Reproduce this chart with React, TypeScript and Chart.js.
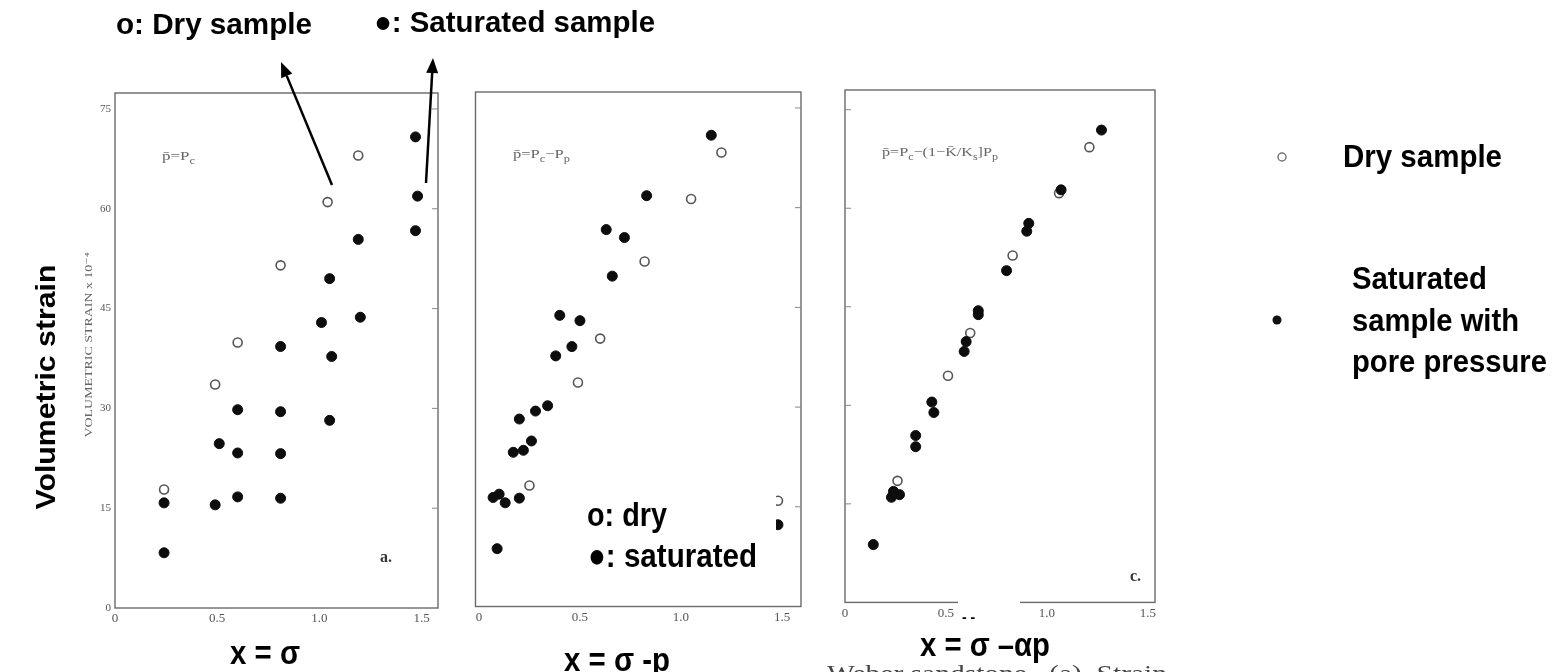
import React, { useEffect, useRef } from 'react';
import { Chart, registerables } from 'chart.js';
Chart.register(...registerables);

// ---------- axis ticks ----------
const X_TICKS = [0, 0.5, 1.0, 1.5];
const X_TICK_LABELS = ['0', '0.5', '1.0', '1.5'];
const Y_TICKS = [0, 15, 30, 45, 60, 75];
const Y_TICK_LABELS = ['0', '15', '30', '45', '60', '75'];

// ---------- panel a : x = sigma ----------
const aDryX = [1.19, 1.04, 0.81, 0.60, 0.49, 0.24];
const aDryY = [68.0, 61.0, 51.5, 39.9, 33.6, 17.8];
const aSatX = [1.47, 1.48, 1.47, 1.19, 1.20, 1.05, 1.01, 1.06, 1.05, 0.81, 0.81, 0.81, 0.81, 0.60, 0.60, 0.60, 0.51, 0.49, 0.24, 0.24];
const aSatY = [70.8, 61.9, 56.7, 55.4, 43.7, 49.5, 42.9, 37.8, 28.2, 39.3, 29.5, 23.2, 16.5, 29.8, 23.3, 16.7, 24.7, 15.5, 15.8, 8.3];

// ---------- panel b : x = sigma - p ----------
const bDryX = [1.20, 1.05, 0.82, 0.60, 0.49, 0.25, 1.48];
const bDryY = [68.3, 61.3, 51.9, 40.3, 33.7, 18.2, 15.9];
const bSatX = [1.15, 0.83, 0.63, 0.72, 0.66, 0.40, 0.50, 0.46, 0.38, 0.34, 0.28, 0.20, 0.26, 0.22, 0.17, 0.20, 0.13, 0.10, 0.07, 0.09, 1.48];
const bSatY = [70.9, 61.8, 56.7, 55.5, 49.7, 43.8, 43.0, 39.1, 37.7, 30.2, 29.4, 28.2, 24.9, 23.5, 23.2, 16.3, 15.6, 16.9, 16.4, 8.7, 12.3];

// ---------- panel c : x = sigma - alpha p ----------
const cDryX = [1.21, 1.06, 0.83, 0.62, 0.51, 0.26];
const cDryY = [69.3, 62.3, 52.8, 41.0, 34.5, 18.5];
const cSatX = [1.27, 1.07, 0.91, 0.90, 0.80, 0.66, 0.66, 0.60, 0.59, 0.43, 0.44, 0.35, 0.35, 0.24, 0.27, 0.23, 0.14];
const cSatY = [71.9, 62.8, 57.7, 56.5, 50.5, 44.4, 43.8, 39.7, 38.2, 30.5, 28.9, 25.4, 23.7, 16.9, 16.4, 16.0, 8.8];

// ---------- text ----------
const FORMULA_A: Array<[string, boolean]> = [['p̄=P', false], ['c', true]];
const FORMULA_B: Array<[string, boolean]> = [['p̄=P', false], ['c', true], ['−P', false], ['p', true]];
const FORMULA_C: Array<[string, boolean]> = [['p̄=P', false], ['c', true], ['−(1−K̄/K', false], ['s', true], [']P', false], ['p', true]];

const BOLD = "'Liberation Sans', Arial, Helvetica, sans-serif";
const SERIF = "'Liberation Serif', 'DejaVu Serif', serif";

type TextOpt = {
  size: number; weight?: string; family?: string; color?: string; width?: number;
  align?: CanvasTextAlign; rotate?: number; baseline?: CanvasTextBaseline;
};

function drawText(ctx: CanvasRenderingContext2D, text: string, x: number, y: number, o: TextOpt) {
  ctx.save();
  ctx.font = `${o.weight ?? 'bold'} ${o.size}px ${o.family ?? BOLD}`;
  ctx.fillStyle = o.color ?? '#000';
  ctx.textAlign = o.align ?? 'left';
  ctx.textBaseline = o.baseline ?? 'middle';
  const w = ctx.measureText(text).width;
  const sx = o.width ? o.width / w : 1;
  ctx.translate(x, y);
  if (o.rotate) ctx.rotate(o.rotate);
  ctx.scale(sx, 1);
  ctx.fillText(text, 0, 0);
  ctx.restore();
}

function drawFormula(ctx: CanvasRenderingContext2D, parts: Array<[string, boolean]>, x: number, y: number, size: number, color: string, width: number) {
  ctx.save();
  ctx.fillStyle = color;
  ctx.textBaseline = 'middle';
  ctx.textAlign = 'left';
  let total = 0;
  for (const [t, sub] of parts) {
    ctx.font = `${sub ? size * 0.75 : size}px ${SERIF}`;
    total += ctx.measureText(t).width;
  }
  ctx.translate(x, y);
  ctx.scale(width / total, 1);
  let cx = 0;
  for (const [t, sub] of parts) {
    ctx.font = `${sub ? size * 0.75 : size}px ${SERIF}`;
    ctx.fillText(t, cx, sub ? size * 0.35 : 0);
    cx += ctx.measureText(t).width;
  }
  ctx.restore();
}

function drawArrow(ctx: CanvasRenderingContext2D, x1: number, y1: number, x2: number, y2: number) {
  const ang = Math.atan2(y2 - y1, x2 - x1);
  const hl = 15, hw = 6;
  const bx = x2 - hl * Math.cos(ang), by = y2 - hl * Math.sin(ang);
  ctx.save();
  ctx.strokeStyle = '#000';
  ctx.fillStyle = '#000';
  ctx.lineWidth = 2.5;
  ctx.beginPath();
  ctx.moveTo(x1, y1);
  ctx.lineTo(bx, by);
  ctx.stroke();
  ctx.beginPath();
  ctx.moveTo(x2, y2);
  ctx.lineTo(bx + hw * Math.sin(ang), by - hw * Math.cos(ang));
  ctx.lineTo(bx - hw * Math.sin(ang), by + hw * Math.cos(ang));
  ctx.closePath();
  ctx.fill();
  ctx.restore();
}

function whiteBox(ctx: CanvasRenderingContext2D, x: number, y: number, w: number, h: number) {
  ctx.save();
  ctx.fillStyle = '#fff';
  ctx.fillRect(x, y, w, h);
  ctx.restore();
}

// ---------- annotations per canvas (page coordinates) ----------
function annotateA(ctx: CanvasRenderingContext2D) {
  drawText(ctx, 'o: Dry sample', 116, 26, { size: 30, width: 196 });
  drawText(ctx, '●: Saturated sample', 374, 24, { size: 30, width: 281 });
  drawArrow(ctx, 332, 185, 281, 62);
  drawArrow(ctx, 426, 183, 433, 58);
  drawText(ctx, 'Volumetric strain', 47, 387, { size: 28, width: 245, align: 'center', rotate: -Math.PI / 2 });
  drawText(ctx, 'VOLUMETRIC STRAIN x 10⁻⁴', 89, 345, { size: 11, weight: 'normal', family: SERIF, color: '#666', align: 'center', rotate: -Math.PI / 2, width: 185 });
  drawFormula(ctx, FORMULA_A, 162, 157, 13, '#666', 33);
  drawText(ctx, 'a.', 380, 558, { size: 16, weight: 'bold', family: SERIF, color: '#333' });
  drawText(ctx, 'x = σ', 265, 655, { size: 33, width: 70, align: 'center' });
}

function annotateB(ctx: CanvasRenderingContext2D) {
  drawFormula(ctx, FORMULA_B, 513, 155, 13, '#666', 57);
  whiteBox(ctx, 578, 492, 198, 92);
  drawText(ctx, 'o: dry', 587, 517, { size: 34, width: 80 });
  drawText(ctx, '●: saturated', 588, 558, { size: 34, width: 169 });
  drawText(ctx, 'x = σ -p', 617, 662, { size: 33, width: 106, align: 'center' });
}

function annotateC(ctx: CanvasRenderingContext2D) {
  drawFormula(ctx, FORMULA_C, 882, 153, 13, '#666', 116);
  drawText(ctx, 'c.', 1130, 577, { size: 16, weight: 'bold', family: SERIF, color: '#333' });
  whiteBox(ctx, 958, 596, 62, 14);
  drawText(ctx, '- -', 962, 618, { size: 14 });
  drawText(ctx, 'x = σ –αp', 985, 647, { size: 34, width: 130, align: 'center' });
  drawText(ctx, 'Weber sandstone.  (a)  Strain', 827, 681, { size: 24, weight: 'normal', family: SERIF, color: '#444', width: 340, baseline: 'alphabetic' });
  // legend at right
  ctx.save();
  ctx.beginPath();
  ctx.arc(1282, 157, 4, 0, Math.PI * 2);
  ctx.fillStyle = '#fff';
  ctx.fill();
  ctx.strokeStyle = '#777';
  ctx.lineWidth = 1.5;
  ctx.stroke();
  ctx.beginPath();
  ctx.arc(1277, 320, 4.5, 0, Math.PI * 2);
  ctx.fillStyle = '#111';
  ctx.fill();
  ctx.restore();
  drawText(ctx, 'Dry sample', 1343, 158, { size: 32, width: 159 });
  drawText(ctx, 'Saturated', 1352, 280, { size: 32, width: 135 });
  drawText(ctx, 'sample with', 1352, 322, { size: 32, width: 167 });
  drawText(ctx, 'pore pressure', 1352, 363, { size: 32, width: 195 });
}

// ---------- chart configuration ----------
type PanelDef = {
  dryX: number[]; dryY: number[]; satX: number[]; satY: number[];
  xMin: number; xMax: number; yMax: number;
  offX: number; width: number;
  area: { left: number; right: number; top: number; bottom: number };
  yLabels: boolean; tickSide: 'left' | 'right';
  annotate: (ctx: CanvasRenderingContext2D) => void;
};

function makeConfig(p: PanelDef): any {
  const yAxisW = p.yLabels ? 30 : 0;
  const xAxisH = 672 - p.area.bottom;
  const leftPad = p.area.left - p.offX - yAxisW;
  const rightPad = p.offX + p.width - p.area.right;
  const tickFont = { family: SERIF, size: 13 };
  return {
    type: 'scatter',
    data: {
      datasets: [
        {
          label: 'Saturated sample',
          data: p.satX.map((x, i) => ({ x, y: p.satY[i] })),
          pointStyle: 'circle',
          pointRadius: 5,
          pointBackgroundColor: '#0d0d0d',
          pointBorderColor: '#0d0d0d',
          pointBorderWidth: 1,
        },
        {
          label: 'Dry sample',
          data: p.dryX.map((x, i) => ({ x, y: p.dryY[i] })),
          pointStyle: 'circle',
          pointRadius: 4.5,
          pointBackgroundColor: '#fff',
          pointBorderColor: '#555',
          pointBorderWidth: 1.6,
        },
      ],
    },
    options: {
      responsive: false,
      maintainAspectRatio: false,
      devicePixelRatio: 1,
      animation: false,
      events: [],
      layout: { padding: { left: leftPad, right: rightPad, top: p.area.top, bottom: 0 } },
      plugins: { legend: { display: false }, tooltip: { enabled: false }, title: { display: false } },
      scales: {
        x: {
          type: 'linear',
          min: p.xMin,
          max: p.xMax,
          afterBuildTicks: (s: any) => { s.ticks = X_TICKS.map((v) => ({ value: v })); },
          afterFit: (s: any) => { s.height = xAxisH; },
          ticks: {
            autoSkip: false, maxRotation: 0, padding: 3, color: '#555', font: tickFont,
            callback: (_v: any, i: number) => X_TICK_LABELS[i],
          },
          grid: { display: false, drawTicks: false },
          border: { display: false },
        },
        y: {
          type: 'linear',
          display: p.yLabels,
          min: 0,
          max: p.yMax,
          afterBuildTicks: (s: any) => { s.ticks = Y_TICKS.map((v) => ({ value: v })); },
          afterFit: (s: any) => { s.width = yAxisW; },
          ticks: {
            padding: 4, color: '#555', font: { family: SERIF, size: 11 },
            callback: (_v: any, i: number) => Y_TICK_LABELS[i],
          },
          grid: { display: false, drawTicks: false },
          border: { display: false },
        },
      },
    },
    plugins: [
      {
        id: 'frame',
        beforeDatasetsDraw(chart: any) {
          const { ctx, chartArea: a, scales } = chart;
          ctx.save();
          ctx.strokeStyle = '#6a6a6a';
          ctx.lineWidth = 1.4;
          ctx.strokeRect(a.left, a.top, a.right - a.left, a.bottom - a.top);
          ctx.lineWidth = 1;
          ctx.strokeStyle = '#888';
          for (const v of Y_TICKS.slice(1)) {
            const y = scales.y.getPixelForValue(v);
            ctx.beginPath();
            if (p.tickSide === 'right') { ctx.moveTo(a.right - 6, y); ctx.lineTo(a.right, y); }
            else { ctx.moveTo(a.left, y); ctx.lineTo(a.left + 6, y); }
            ctx.stroke();
          }
          ctx.restore();
        },
      },
      {
        id: 'notes',
        afterDraw(chart: any) {
          const ctx = chart.ctx as CanvasRenderingContext2D;
          ctx.save();
          ctx.translate(-p.offX, 0);
          p.annotate(ctx);
          ctx.restore();
        },
      },
    ],
  };
}

const PANELS: PanelDef[] = [
  {
    dryX: aDryX, dryY: aDryY, satX: aSatX, satY: aSatY,
    xMin: 0, xMax: 1.58, yMax: 77.4, offX: 0, width: 680,
    area: { left: 115, right: 438, top: 93, bottom: 608 },
    yLabels: true, tickSide: 'right', annotate: annotateA,
  },
  {
    dryX: bDryX, dryY: bDryY, satX: bSatX, satY: bSatY,
    xMin: -0.017, xMax: 1.594, yMax: 77.4, offX: 460, width: 360,
    area: { left: 475.5, right: 801, top: 92, bottom: 606.5 },
    yLabels: false, tickSide: 'right', annotate: annotateB,
  },
  {
    dryX: cDryX, dryY: cDryY, satX: cSatX, satY: cSatY,
    xMin: 0, xMax: 1.535, yMax: 78, offX: 820, width: 742,
    area: { left: 845, right: 1155, top: 90, bottom: 602.4 },
    yLabels: false, tickSide: 'left', annotate: annotateC,
  },
];

function Panel({ def }: { def: PanelDef }) {
  const ref = useRef<HTMLCanvasElement>(null);
  useEffect(() => {
    if (!ref.current) return;
    const chart = new Chart(ref.current, makeConfig(def));
    return () => chart.destroy();
  }, [def]);
  return (
    <canvas
      ref={ref}
      width={def.width}
      height={672}
      style={{ position: 'absolute', left: def.offX, top: 0, width: def.width, height: 672 }}
    />
  );
}

export default function App() {
  return (
    <div style={{ position: 'absolute', left: 0, top: 0, width: 1562, height: 672, background: '#fff', overflow: 'hidden' }}>
      {PANELS.map((d, i) => <Panel key={i} def={d} />)}
    </div>
  );
}
